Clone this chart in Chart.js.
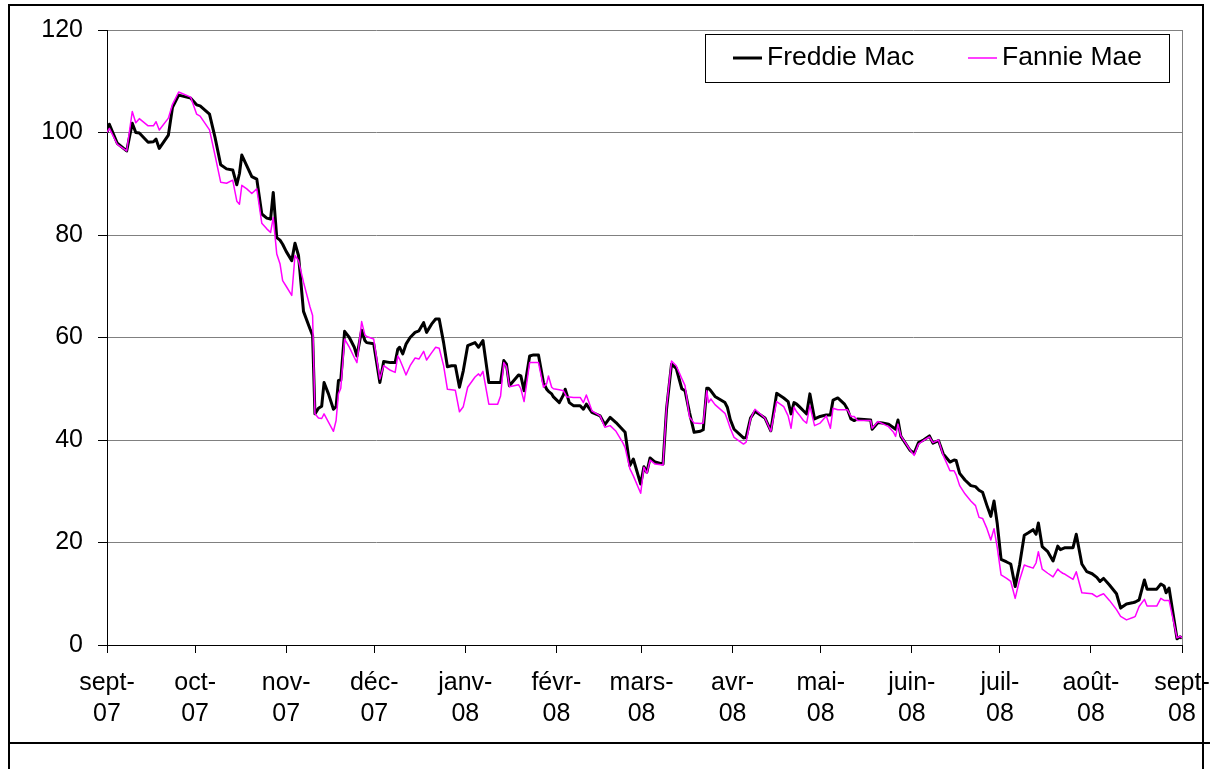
<!DOCTYPE html>
<html>
<head>
<meta charset="utf-8">
<title>Freddie Mac / Fannie Mae</title>
<script src="https://cdn.jsdelivr.net/npm/chart.js@4.4.0/dist/chart.umd.min.js"></script>
<style>
  html, body { margin: 0; padding: 0; background: #ffffff; }
  canvas { display: block; }
</style>
</head>
<body>
<canvas id="chart" width="1210" height="769"></canvas>
<script>
// Trading days, counted in calendar days from the start of the axis (sept-07).
const days = [
  0, 0.8, 3.5, 6.7, 8.6, 9.8, 11, 14, 15.8, 16.7, 17.8, 20.9, 22.3, 24.4, 28.5, 30.5, 31.7, 34.9, 36.8, 38.7,
  40.7, 42.8, 44.2, 45.1, 45.9, 47.6, 49.3, 51.0, 52.7, 54.4, 55.7, 56.6, 57.8, 58.9, 59.8, 61.0, 62.9, 64.0, 65.2, 66.9,
  69.1, 70.0, 70.8, 72.0, 73.1, 73.9, 75.4, 77.1, 78.0, 78.8, 79.6, 80.9, 82.5, 84.2, 85.1, 86.7, 87.8, 88.4, 90.8, 92.9,
  94.2, 96.5, 98.1, 99.0, 99.6, 100.7, 101.8, 103.2, 104.9, 106.2, 107.8, 108.8, 110.5, 111.9, 113.1, 114.6, 115.9, 117.3, 118.6, 120.0,
  121.3, 122.8, 125.3, 126.5, 127.1, 128.0, 130.0, 133.0, 134.0, 135.1, 136.0, 137.0, 140.1, 140.9, 142.0, 143.9, 145.2, 146.9, 148.6, 149.7,
  150.3, 151.4, 152.0, 154.0, 155.4, 156.0, 156.5, 157.4, 158.8, 161.1, 162.2, 163.2, 165.1, 167.9, 169.5, 171.3, 173.3, 175.6, 176.4, 178.0,
  179.2, 181.7, 182.8, 183.8, 184.9, 186.6, 189.3, 190.5, 192.2, 193.8, 195.7, 196.8, 198.3, 199.9, 202.0, 203.0, 204.2, 204.8, 205.6, 207.0,
  210.4, 211.2, 212.2, 213.5, 216.7, 217.6, 219.1, 220.6, 224.0, 226.0, 228.0, 230.4, 231.9, 232.9, 233.9, 234.8, 235.7, 237.1, 238.2, 239.3,
  240.9, 242.8, 244.9, 246.3, 247.2, 248.8, 251.1, 252.1, 253.3, 254.4, 255.5, 260.0, 260.5, 262.5, 264.0, 266.1, 267.8, 268.5, 269.3, 270.3,
  273.4, 274.8, 276.3, 278.0, 280.0, 281.2, 283.1, 284.7, 287.0, 288.4, 289.1, 290.3, 292.1, 294.1, 295.7, 296.9, 298.1, 299.6, 300.9, 302.0,
  303.1, 304.4, 306.3, 307.7, 309.2, 310.7, 312.3, 313.7, 315.3, 316.3, 317.1, 318.4, 320.3, 322.1, 323.7, 324.6, 325.4, 326.2, 328.9, 330.0,
  331.9, 333.6, 335.4, 337.0, 338.1, 339.3, 341.3, 343.7, 345.1, 347.1, 349.5, 350.1, 351.4, 353.2, 354.1, 357.4, 358.8, 359.9, 360.6, 361.6,
  364.3, 365.4, 366
];

// Share price index, base 100 at the start.
const freddieMac = [
  100, 101.6, 97.9, 96.4, 101.8, 100, 99.9, 98.1, 98.2, 98.7, 96.9, 99.5, 104.9, 107.3, 106.7, 105.4, 105.2, 103.6, 99.0, 93.7,
  92.9, 92.7, 89.8, 92.0, 95.6, 93.5, 91.4, 90.9, 84.1, 83.3, 83.1, 88.3, 79.5, 79.0, 78.2, 76.8, 75.0, 78.4, 76.0, 65.1,
  61.7, 60.4, 45.1, 46.2, 46.6, 51.2, 49.0, 46.0, 46.5, 51.6, 51.7, 61.2, 60.0, 58.1, 56.4, 61.4, 59.4, 59.0, 58.8, 51.2,
  55.3, 55.1, 55.1, 57.7, 58.1, 56.8, 58.7, 60.0, 61.0, 61.3, 62.9, 61.0, 62.6, 63.6, 63.6, 59.0, 54.3, 54.5, 54.5, 50.3,
  53.5, 58.4, 59.0, 58.1, 58.6, 59.4, 51.2, 51.2, 51.2, 55.5, 54.8, 50.6, 52.7, 52.5, 49.6, 56.4, 56.6, 56.6, 51.2, 49.9,
  49.5, 49.0, 48.4, 47.3, 48.8, 49.9, 49.0, 47.3, 46.7, 46.7, 46.0, 47.0, 45.4, 44.7, 43.0, 44.4, 43.4, 42.0, 41.5, 35.0,
  36.3, 31.4, 34.8, 33.7, 36.5, 35.7, 35.3, 46.0, 54.8, 54.0, 50.0, 49.6, 45.4, 41.5, 41.7, 42.0, 50.1, 50.1, 49.6, 48.5,
  47.3, 46.4, 44.0, 42.1, 40.4, 40.5, 44.3, 45.6, 44.3, 41.8, 49.1, 48.2, 47.5, 45.1, 47.3, 47.0, 46.5, 45.7, 45.1, 49.0,
  44.1, 44.6, 44.9, 44.9, 47.8, 48.2, 47.0, 46.0, 44.1, 43.8, 44.1, 43.9, 42.1, 43.4, 43.3, 43.1, 42.4, 42.1, 43.9, 40.7,
  38.0, 37.4, 39.5, 40.0, 40.8, 39.4, 39.9, 37.3, 35.7, 36.1, 36.0, 33.5, 32.2, 31.1, 30.9, 30.2, 29.8, 27.2, 25.1, 28.1,
  23.7, 16.7, 16.2, 15.8, 11.4, 15.6, 21.4, 21.9, 22.5, 21.6, 23.8, 19.2, 18.2, 16.4, 19.3, 18.6, 18.8, 19.0, 19.0, 21.6,
  15.8, 14.3, 13.9, 13.2, 12.4, 13.0, 11.7, 10.0, 7.2, 8.0, 8.3, 8.4, 8.8, 12.7, 10.9, 10.9, 11.9, 11.5, 10.2, 11.1,
  1.2, 1.6, 1.3
];

const fannieMae = [
  100, 100.8, 97.7, 96.4, 104.1, 101.9, 102.7, 101.3, 101.3, 102.1, 100.5, 102.8, 105.5, 107.9, 106.9, 103.6, 103.2, 100.5, 95.5, 90.3,
  90.1, 90.7, 86.6, 86.0, 89.7, 89.0, 88.1, 89.0, 82.3, 81.2, 80.5, 83.4, 76.3, 74.4, 71.1, 70.0, 68.2, 76.0, 75.0, 70.8,
  66.0, 64.3, 45.1, 44.3, 44.2, 45.1, 43.5, 41.7, 43.8, 49.0, 50.1, 59.7, 58.1, 56.1, 55.1, 63.1, 60.5, 60.2, 59.7, 51.9,
  54.5, 53.6, 53.2, 56.4, 55.8, 54.3, 52.7, 54.5, 56.0, 55.8, 57.3, 55.6, 57.0, 58.1, 57.9, 54.5, 49.9, 49.8, 49.7, 45.5,
  46.5, 50.3, 52.3, 52.9, 52.5, 53.4, 47.0, 47.0, 48.6, 55.1, 54.3, 50.4, 50.8, 50.0, 47.5, 55.1, 55.1, 55.1, 50.3, 51.0,
  52.5, 50.3, 50.0, 49.8, 49.6, 49.0, 48.4, 48.4, 48.3, 48.3, 47.3, 48.8, 45.7, 44.7, 42.5, 42.8, 41.7, 39.5, 38.5, 34.4,
  33.0, 29.6, 34.7, 33.5, 36.1, 35.3, 35.1, 46.4, 55.4, 54.5, 52.0, 50.6, 44.5, 43.3, 43.2, 43.3, 49.6, 47.3, 48.0, 46.9,
  45.2, 44.0, 42.3, 40.5, 39.2, 39.6, 44.1, 46.0, 44.3, 41.7, 47.5, 46.5, 44.7, 42.3, 46.4, 45.5, 44.9, 43.8, 43.3, 46.7,
  42.8, 43.3, 44.7, 42.3, 46.2, 45.9, 45.9, 45.9, 44.6, 44.6, 43.8, 43.8, 42.3, 43.6, 43.2, 42.6, 41.5, 40.7, 43.1, 40.8,
  38.1, 37.0, 39.2, 39.9, 40.6, 39.5, 40.0, 37.0, 34.0, 34.0, 33.2, 31.1, 29.5, 28.1, 27.2, 24.9, 24.7, 22.7, 20.5, 22.7,
  19.0, 13.7, 13.0, 12.4, 9.1, 12.7, 15.6, 15.3, 15.0, 16.0, 18.2, 14.8, 14.0, 13.3, 14.8, 14.3, 14.0, 13.8, 12.8, 14.3,
  10.2, 10.1, 10.0, 9.4, 9.7, 10.0, 8.7, 6.9, 5.6, 4.9, 5.4, 5.6, 7.5, 8.9, 7.6, 7.6, 9.1, 8.7, 8.7, 8.7,
  1.4, 1.7, 1.4
];

// Month boundaries on the day axis and their labels.
const monthTicks = [0, 30, 61, 91, 122, 153, 182, 213, 243, 274, 304, 335, 366];
const monthLabels = [
  ['sept-', '07'], ['oct-', '07'], ['nov-', '07'], ['déc-', '07'], ['janv-', '08'], ['févr-', '08'],
  ['mars-', '08'], ['avr-', '08'], ['mai-', '08'], ['juin-', '08'], ['juil-', '08'], ['août-', '08'], ['sept-', '08']
];

const seriesNames = ['Freddie Mac', 'Fannie Mae'];

const FONT = 'Liberation Sans, Arial, Helvetica, sans-serif';
Chart.defaults.font.family = FONT;
Chart.defaults.color = '#000000';

const toPoints = (vals) => days.map((d, i) => ({ x: d, y: vals[i] }));

// Sheet frame, plot-area right edge and the boxed legend.
const decorations = {
  id: 'decorations',
  beforeDraw(chart) {
    const ctx = chart.ctx;
    ctx.save();
    ctx.fillStyle = '#ffffff';
    ctx.fillRect(0, 0, chart.width, chart.height);
    ctx.restore();
  },
  afterDraw(chart) {
    const ctx = chart.ctx;
    const a = chart.chartArea;
    ctx.save();

    // right edge of the plot area
    ctx.strokeStyle = '#808080';
    ctx.lineWidth = 1;
    ctx.beginPath();
    ctx.moveTo(Math.round(a.right) + 0.5, a.top);
    ctx.lineTo(Math.round(a.right) + 0.5, a.bottom);
    ctx.stroke();

    // frame around the chart
    ctx.strokeStyle = '#000000';
    ctx.lineWidth = 2;
    ctx.beginPath();
    ctx.moveTo(9, 769); ctx.lineTo(9, 5); ctx.lineTo(1203, 5); ctx.lineTo(1203, 769);
    ctx.moveTo(9, 743); ctx.lineTo(1210, 743);
    ctx.stroke();

    // legend
    const boxW = 464, boxH = 48;
    const bx = Math.round(a.right) - 13 - boxW;
    const by = Math.round(a.top) + 4;
    ctx.fillStyle = '#ffffff';
    ctx.fillRect(bx, by, boxW, boxH);
    ctx.strokeStyle = '#000000';
    ctx.lineWidth = 1;
    ctx.strokeRect(bx + 0.5, by + 0.5, boxW, boxH);

    const itemX = [28, 263];
    const midY = by + 24;
    ctx.font = '25px ' + FONT;
    ctx.textAlign = 'left';
    ctx.textBaseline = 'middle';
    chart.data.datasets.forEach((ds, i) => {
      const x0 = bx + itemX[i];
      ctx.strokeStyle = ds.borderColor;
      ctx.lineWidth = ds.borderWidth;
      ctx.beginPath();
      ctx.moveTo(x0, midY);
      ctx.lineTo(x0 + 29, midY);
      ctx.stroke();
      ctx.fillStyle = '#000000';
      ctx.save();
      ctx.translate(x0 + 34, midY);
      ctx.scale(1.06, 1);
      ctx.fillText(ds.label, 0, 0);
      ctx.restore();
    });
    ctx.restore();
  }
};

new Chart(document.getElementById('chart'), {
  type: 'line',
  data: {
    datasets: [
      {
        label: seriesNames[0],
        data: toPoints(freddieMac),
        borderColor: '#000000',
        borderWidth: 3,
        pointRadius: 0,
        tension: 0,
        borderJoinStyle: 'round',
        order: 2
      },
      {
        label: seriesNames[1],
        data: toPoints(fannieMae),
        borderColor: '#FF00FF',
        borderWidth: 1.5,
        pointRadius: 0,
        tension: 0,
        borderJoinStyle: 'round',
        order: 1
      }
    ]
  },
  options: {
    responsive: false,
    animation: false,
    devicePixelRatio: 1,
    layout: { padding: { left: 0, top: 30, right: 28, bottom: 0 } },
    plugins: {
      legend: { display: false },
      tooltip: { enabled: false }
    },
    scales: {
      x: {
        type: 'linear',
        min: 0,
        max: 366,
        afterBuildTicks(scale) {
          scale.ticks = monthTicks.map(v => ({ value: v }));
        },
        afterFit(scale) {
          scale.height = 124;
          scale.paddingLeft = 0;
          scale.paddingRight = 0;
        },
        ticks: {
          autoSkip: false,
          maxRotation: 0,
          minRotation: 0,
          padding: 15,
          font: { size: 25, lineHeight: 1.24 },
          color: '#000000',
          callback: (value, index) => monthLabels[index]
        },
        grid: {
          drawOnChartArea: false,
          drawTicks: true,
          tickLength: 8,
          tickColor: '#000000'
        },
        border: { color: '#000000', width: 1 }
      },
      y: {
        min: 0,
        max: 120,
        afterFit(scale) { scale.width = 107; },
        ticks: {
          stepSize: 20,
          padding: 15,
          font: { size: 25 },
          color: '#000000'
        },
        grid: {
          color: '#808080',
          lineWidth: 1,
          drawTicks: true,
          tickLength: 9,
          tickColor: '#000000'
        },
        border: { color: '#000000', width: 1 }
      }
    }
  },
  plugins: [decorations]
});
</script>
</body>
</html>
